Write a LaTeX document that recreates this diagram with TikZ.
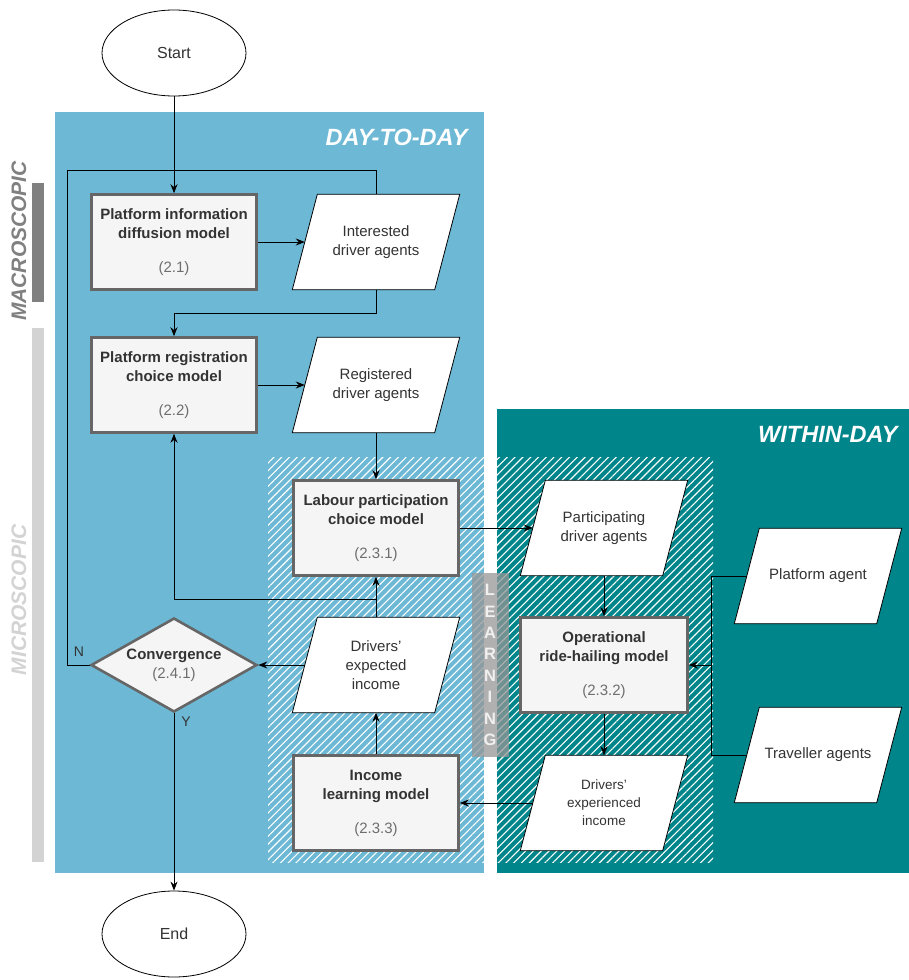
\documentclass[tikz,border=0pt]{standalone}
\usepackage{fontspec}
\setmainfont{Liberation Sans}
\usetikzlibrary{shapes.geometric,arrows.meta,patterns.meta}
\definecolor{daybg}{RGB}{108,184,213}
\definecolor{withinbg}{RGB}{0,133,138}
\definecolor{boxfill}{RGB}{245,245,245}
\definecolor{boxline}{RGB}{102,102,102}
\definecolor{txt}{RGB}{51,51,51}
\definecolor{numtxt}{RGB}{110,110,110}
\definecolor{macrocol}{RGB}{128,128,128}
\definecolor{microcol}{RGB}{211,211,211}
\definecolor{learncol}{RGB}{150,150,150}
\pgfdeclarelayer{backdrop}
\pgfdeclarelayer{shapes}
\pgfsetlayers{backdrop,shapes,main}
% data (input/output) node: a text box with a parallelogram drawn behind it
\newcommand{\datanode}[4][]{%
  \node[datatext,#1] (#2) at (#3) {#4};
  \begin{pgfonlayer}{shapes}
    \filldraw[datashape] ([xshift=25]#2.north west) -- (#2.north east)
      -- ([xshift=-25]#2.south east) -- (#2.south west) -- cycle;
  \end{pgfonlayer}}
\begin{document}
\begin{tikzpicture}[x=1pt,y=-1pt,
  font=\fontsize{15}{19}\selectfont,
  model/.style={rectangle, draw=boxline, line width=2.6pt, fill=boxfill,
    minimum width=165, minimum height=95, align=center, text=txt, inner sep=0},
  datatext/.style={rectangle, minimum width=167, minimum height=95,
    align=center, text=txt, inner sep=0},
  datashape/.style={draw=black, line width=0.8pt, fill=white, line join=miter},
  terminal/.style={ellipse, draw=black, line width=0.8pt, fill=white,
    minimum width=144, minimum height=86, text=txt, font=\fontsize{16}{19}\selectfont},
  decision/.style={diamond, aspect=1.75, draw=boxline, line width=2.6pt, fill=boxfill,
    minimum width=166, minimum height=94, inner sep=0, align=center, text=txt},
  conn/.style={draw=black, line width=1pt},
  arr/.style={conn, -{Stealth[length=9pt,width=7pt]}},
  phase/.style={font=\fontsize{23.5}{28}\selectfont\bfseries\itshape, text=white, anchor=east},
  scale label/.style={rotate=90, font=\fontsize{21}{25}\selectfont\bfseries\itshape},
]
\useasboundingbox (0,0) rectangle (909,980);

\begin{pgfonlayer}{backdrop}
% phase backgrounds
\fill[daybg] (55,112) rectangle (484,873);
\fill[withinbg] (497,409) rectangle (909,873);
% learning loop area
\fill[pattern={Lines[angle=45,distance=5.5pt,line width=1.1pt]}, pattern color=white, fill opacity=0.85]
  (268,457) rectangle (713,862);
% scale bars on the left
\fill[macrocol] (32,183) rectangle (44,302);
\fill[microcol] (32,328) rectangle (44,862);
% learning strip
\fill[learncol, opacity=0.75] (472,573) rectangle (509,757);
\end{pgfonlayer}

\node[phase] (daylab) at (471,137) {DAY-TO-DAY};
\node[phase] (withinlab) at (901,434) {WITHIN-DAY};
\node[scale label, text=macrocol] (macrolab) at (19,241) {MACROSCOPIC};
\node[scale label, text=microcol] (microlab) at (19,600) {MICROSCOPIC};
\node[font=\fontsize{16.5}{21.4}\selectfont\bfseries, text=white!94!black, align=center] (learn) at (490,665)
  {L\\E\\A\\R\\N\\I\\N\\G};

% nodes
\node[terminal] (start) at (174,53) {Start};
\node[terminal] (endn) at (174,934) {End};

\node[model] (pid) at (174,242) {\textbf{Platform information}\\\textbf{diffusion model}\\[15pt]{\color{numtxt}(2.1)}};
\node[model] (prc) at (174,385) {\textbf{Platform registration}\\\textbf{choice model}\\[15pt]{\color{numtxt}(2.2)}};
\node[model] (lpc) at (376,528) {\textbf{Labour participation}\\\textbf{choice model}\\[15pt]{\color{numtxt}(2.3.1)}};
\node[model, minimum width=167] (orh) at (604,665) {\textbf{Operational}\\\textbf{ride-hailing model}\\[15pt]{\color{numtxt}(2.3.2)}};
\node[model] (ilm) at (376,803) {\textbf{Income}\\\textbf{learning model}\\[15pt]{\color{numtxt}(2.3.3)}};

\datanode{ida}{376,242}{Interested\\driver agents}
\datanode{rda}{376,385}{Registered\\driver agents}
\datanode{pda}{604,528}{Participating\\driver agents}
\datanode{dei}{376,665}{Drivers'\\expected\\income}
\datanode[font=\fontsize{13.5}{18}\selectfont]{dxi}{604,803}{Drivers'\\experienced\\income}
\datanode{pa}{818,576}{Platform agent}
\datanode{ta}{818,755}{Traveller agents}

\node[decision] (conv) at (174,665) {\textbf{Convergence}\\{\color{numtxt}(2.4.1)}};

\node[font=\fontsize{14}{16}\selectfont, text=txt] (nlab) at (79,652) {N};
\node[font=\fontsize{14}{16}\selectfont, text=txt] (ylab) at (186,722) {Y};

% connectors
\coordinate (nloop) at (67,170);
\coordinate (bus) at (711,665);

\draw[arr] (start) -- (pid);
\draw[arr] (pid) -- ([xshift=12.5]ida.west);
\draw[conn] (conv.west) -| (nloop) -| (ida.north);
\draw[arr] (ida.south) -- ++(0,24) -| (prc.north);
\draw[arr] (prc) -- ([xshift=12.5]rda.west);
\draw[arr] (rda) -- (lpc);
\draw[arr] (lpc) -- ([xshift=12.5]pda.west);
\draw[arr] (pda) -- (orh);
\draw[arr] (orh) -- (dxi);
\draw[arr] ([xshift=12.5]dxi.west) -- (ilm);
\draw[arr] (ilm) -- (dei);
\draw[arr] (dei) -- (lpc);
\draw[arr] (dei.north) -- ++(0,-18) -| (prc.south);
\draw[arr] ([xshift=12.5]dei.west) -- (conv);
\draw[arr] (conv) -- (endn);
\draw[conn] ([xshift=12.5]pa.west) -| (bus);
\draw[conn] ([xshift=12.5]ta.west) -| (bus);
\draw[arr] (bus) -- (orh.east);
\end{tikzpicture}
\end{document}
